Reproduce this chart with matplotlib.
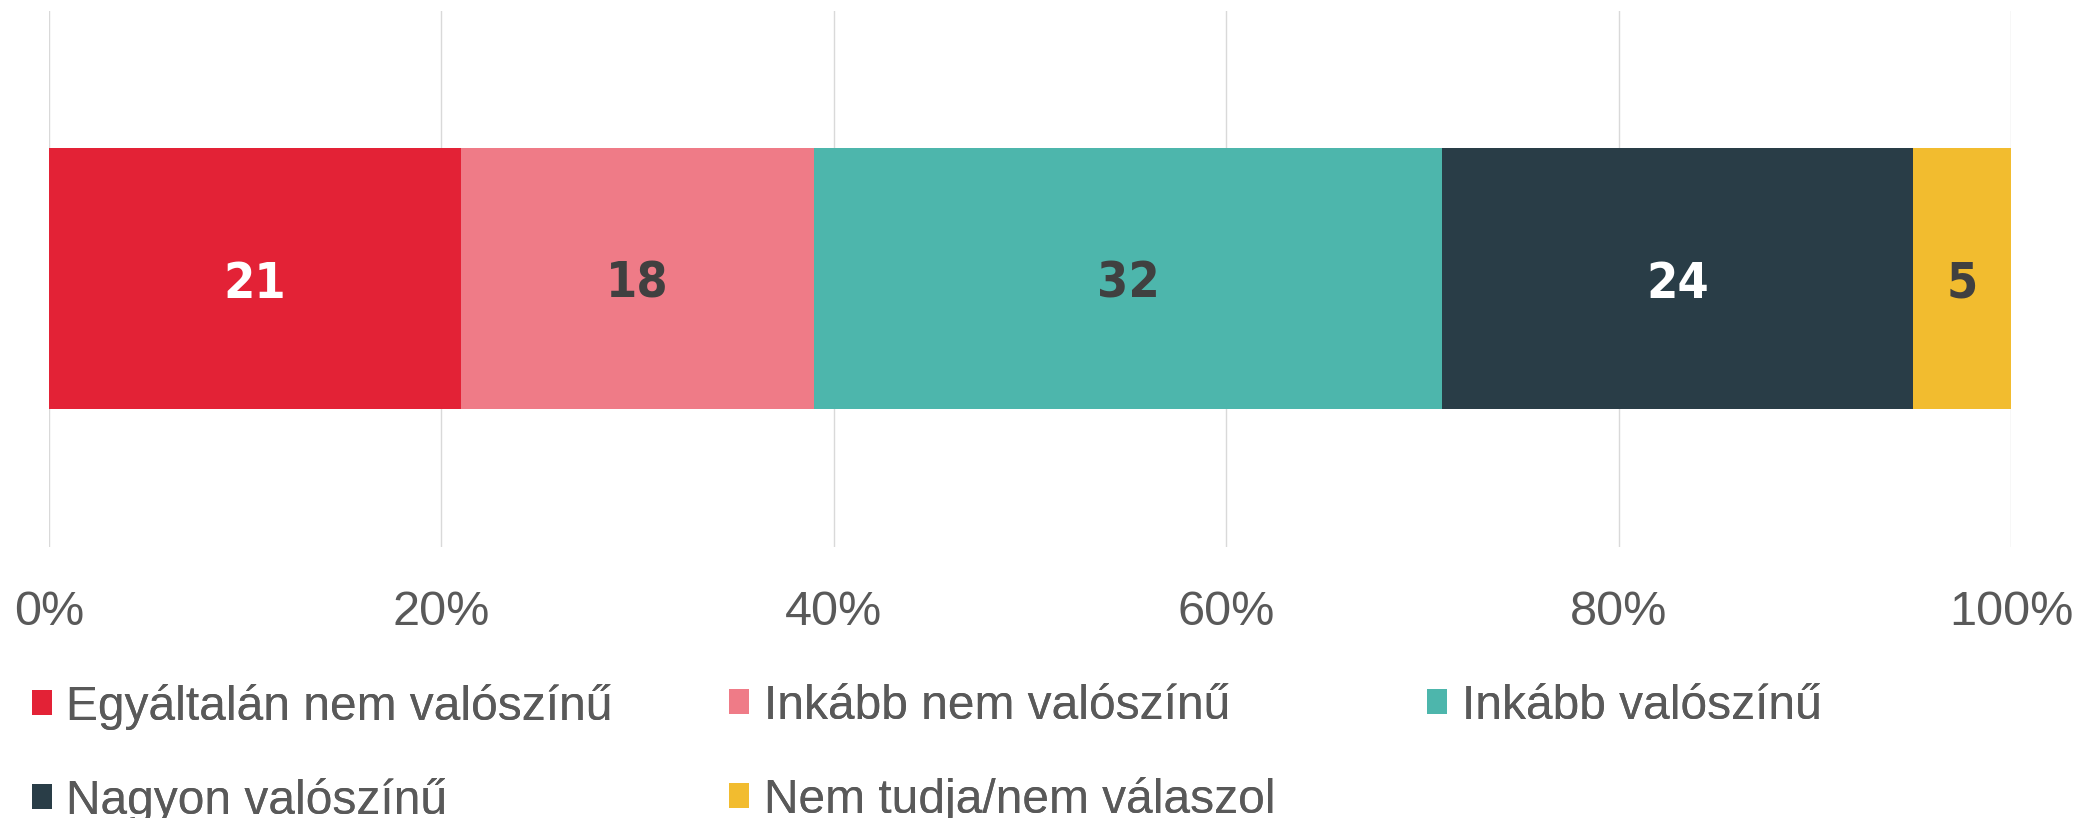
import matplotlib
matplotlib.use("Agg")
import matplotlib.pyplot as plt
from matplotlib.patches import Patch
from matplotlib import font_manager

categories = ["Egyáltalán nem valószínű", "Inkább nem valószínű", "Inkább valószínű",
              "Nagyon valószínű", "Nem tudja/nem válaszol"]
values = [21, 18, 32, 24, 5]
colors = ["#E32236", "#EF7B87", "#4DB6AC", "#293D47", "#F2BC2F"]
label_colors = ["#FFFFFF", "#404040", "#404040", "#FFFFFF", "#404040"]
tick_values = [0, 20, 40, 60, 80, 100]
tick_labels = ["0%", "20%", "40%", "60%", "80%", "100%"]

# try to find a condensed bold font for the bar labels
cond = None
for f in font_manager.fontManager.ttflist:
    fn = f.fname.lower()
    if ('condensed' in fn or 'narrow' in fn) and f.weight in ('bold', 700):
        cond = f.fname
        break
if cond:
    label_font = font_manager.FontProperties(fname=cond, size=36)
else:
    label_font = font_manager.FontProperties(family=['Liberation Sans', 'DejaVu Sans'],
                                             weight='bold', size=34)

plt.rcParams['font.family'] = ['Liberation Sans', 'DejaVu Sans']

W, H = 2077, 818
fig = plt.figure(figsize=(W / 100, H / 100), dpi=100)
ax = fig.add_axes([49 / W, 1 - 547 / H, (2011 - 49) / W, (547 - 10.6) / H])

left = 0
for v, c, lc in zip(values, colors, label_colors):
    ax.barh(0, v, left=left, height=0.487, color=c, edgecolor='none', zorder=3)
    ax.text(left + v / 2, 0.0, str(v), ha='center', va='center_baseline', color=lc,
            fontproperties=label_font, zorder=4)
    left += v

ax.set_xlim(0, 100)
ax.set_ylim(-0.5, 0.5)
ax.set_xticks(tick_values)
ax.set_xticklabels(tick_labels)
ax.set_yticks([])
ax.tick_params(axis='x', length=0, pad=31, labelsize=35, labelcolor='#595959')
for t in tick_values:
    ax.axvline(t, color='#D9D9D9', linewidth=1.0, zorder=1)
for s in ax.spines.values():
    s.set_visible(False)

handles = [Patch(facecolor=c, edgecolor='none') for c in colors]
col_groups = [[0, 3], [1, 4], [2]]
col_x = [32 / W, 729 / W, 1427 / W]
for xs, grp in zip(col_x, col_groups):
    leg = fig.legend([handles[i] for i in grp], [categories[i] for i in grp],
                     loc='upper left', bbox_to_anchor=(xs, 1 - 684 / H),
                     frameon=False, fontsize=34.5, handlelength=0.42, handleheight=0.42,
                     handletextpad=0.3, labelspacing=1.0, borderpad=0, borderaxespad=0,
                     labelcolor='#595959')
    fig.add_artist(leg)

fig.savefig("out.png", dpi=100)
